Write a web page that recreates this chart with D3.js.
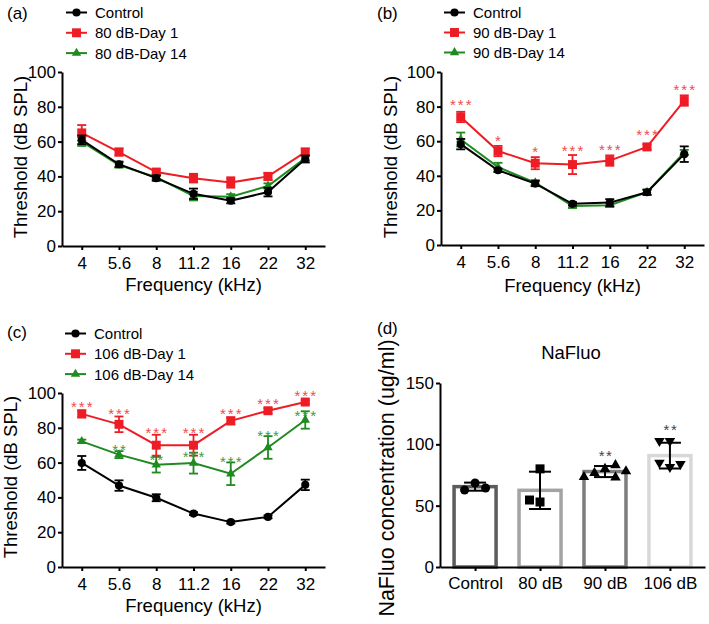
<!DOCTYPE html>
<html><head><meta charset="utf-8">
<script src="https://cdn.jsdelivr.net/npm/d3@7/dist/d3.min.js"></script>
<style>
body{margin:0;background:#fff}
svg{display:block;font-family:"Liberation Sans",Arial,sans-serif}
</style>
</head><body>
<svg id="chart" width="709" height="624"></svg>
<script>
// ---------------- DATA ----------------
const freqs = ["4", "5.6", "8", "11.2", "16", "22", "32"];
const thresholdTicks = [0, 20, 40, 60, 80, 100];

// Panel (a) 80 dB
const aControl    = [61, 47, 39, 30, 26, 31, 50];
const aControlErr = [2.5, 1.5, 1.5, 3, 1.5, 2.5, 2];
const aDay1       = [65, 54, 42.5, 39, 36.5, 40, 54];
const aDay1Err    = [4.5, 2, 1.5, 2.5, 3, 2, 2];
const aDay14      = [60, 46.5, 39.5, 28.7, 28.3, 34.5, 50.5];
const aDay14Err   = [2.5, 1.5, 1, 2.5, 1.5, 1.5, 1.5];

// Panel (b) 90 dB
const bControl    = [58.3, 43.2, 35.5, 23.8, 24.5, 30.5, 52.5];
const bControlErr = [3, 1, 1.5, 1, 2, 1.5, 4.5];
const bDay1       = [74, 54.3, 47.3, 46.5, 48.8, 56.7, 83.5];
const bDay1Err    = [3, 3, 3.5, 5.5, 3, 1.5, 3];
const bDay14      = [61, 45, 36, 22.5, 23, 30.5, 53.5];
const bDay14Err   = [4, 2.5, 1.5, 1, 1, 1.5, 1.5];
const bDay1Sig    = ["***", "*", "*", "***", "***", "***", "***"];
const bDay1SigAt  = [83, 62.4, 56, 56.4, 57.2, 65.8, 91.6];

// Panel (c) 106 dB
const cControl    = [59.8, 46.8, 39.8, 30.7, 25.8, 28.8, 47.2];
const cControlErr = [4, 3, 2, 0.8, 0.8, 0.8, 3];
const cDay1       = [88, 82, 70, 70, 84, 89.8, 94.8];
const cDay1Err    = [2, 4.5, 6, 6, 2, 1.5, 1];
const cDay14      = [72.2, 64.6, 58.8, 59.7, 53.6, 68.7, 84.5];
const cDay14Err   = [1, 2, 4.5, 6, 6.5, 6.5, 5];
const cDay1Sig    = ["***", "***", "***", "***", "***", "***", "***"];
const cDay1SigAt  = [94.1, 90.2, 79.1, 79.1, 90.2, 95.6, 100.2];
const cDay14Sig   = ["", "**", "**", "***", "***", "***", "***"];
const cDay14SigAt = [null, 69.5, 63.4, 65.3, 62.4, 77.4, 88.7];

// Panel (d) NaFluo
const groups      = ["Control", "80 dB", "90 dB", "106 dB"];
const naMean      = [65.5, 62.5, 77.8, 90.8];
const naSD        = [3.3, 15.2, 4.5, 10.5];
const naPoints    = [
  [68.5, 62.8, 64.4],
  [80, 53, 54.6],
  [80, 76.6, 83, 73, 73.4, 78],
  [81.5, 102.7, 102.7, 85, 84]
];
const naSig       = ["", "", "**", "**"];
const naSigAt     = [null, null, 93.8, 115];
const naTicks     = [0, 50, 100, 150];

// ---------------- STYLE ----------------
const RED = "#ee1c24", GREEN = "#1f8a1f", BLACK = "#000";
const RED_SIG = "#ef4a4a", GREEN_SIG = "#3d9c3d";
const TICK_FS = 17, TITLE_FS = 18.5, LEG_FS = 15, LABEL_FS = 17, SIG_FS = 15;

const svg = d3.select("#chart");

function marker(sel, shape, color, big) {
  let sym;
  if (shape === "circle") sym = d3.symbol(d3.symbolCircle, big ? 64 : 52);
  else if (shape === "square") sym = d3.symbol(d3.symbolSquare, big ? 81 : 80);
  else sym = d3.symbol(d3.symbolTriangle, big ? 48 : 38);
  sel.append("path").attr("d", sym()).attr("fill", color);
  if (shape === "down") sel.select("path:last-child").attr("transform", "rotate(180)");
}

function styleAxis(a) {
  a.select(".domain").attr("stroke", BLACK).attr("stroke-width", 2);
  a.selectAll(".tick line").attr("stroke", BLACK).attr("stroke-width", 2);
  a.selectAll(".tick text").attr("fill", BLACK).attr("font-size", TICK_FS)
    .attr("font-family", "Liberation Sans, Arial, sans-serif");
}

function linePanel(o) {
  const g = svg.append("g");
  const x = d3.scalePoint().domain(freqs).range([o.x0, o.x1]).padding(0.53);
  const y = d3.scaleLinear().domain([0, 100]).range([o.yBot, o.yTop]);

  const xa = g.append("g").attr("transform", `translate(0,${o.yBot})`)
    .call(d3.axisBottom(x).tickSize(4).tickSizeOuter(0).tickPadding(7));
  styleAxis(xa);
  const ya = g.append("g").attr("transform", `translate(${o.x0},0)`)
    .call(d3.axisLeft(y).tickValues(thresholdTicks).tickSize(4).tickSizeOuter(0).tickPadding(2));
  styleAxis(ya);

  // series: draw order green, red, black
  [o.series[2], o.series[1], o.series[0]].forEach(s => {
    const pts = freqs.map((f, i) => ({ f, v: s.vals[i], e: s.errs[i] }));
    g.append("path").datum(pts)
      .attr("d", d3.line().x(d => x(d.f)).y(d => y(d.v)))
      .attr("fill", "none").attr("stroke", s.color).attr("stroke-width", 2);
    const eb = g.append("g").attr("stroke", s.color).attr("stroke-width", 1.8);
    pts.forEach(d => {
      const cx = x(d.f), t = y(d.v + d.e), b = y(d.v - d.e);
      eb.append("line").attr("x1", cx).attr("x2", cx).attr("y1", t).attr("y2", b);
      eb.append("line").attr("x1", cx - 4.5).attr("x2", cx + 4.5).attr("y1", t).attr("y2", t);
      eb.append("line").attr("x1", cx - 4.5).attr("x2", cx + 4.5).attr("y1", b).attr("y2", b);
    });
    pts.forEach(d => {
      const m = g.append("g").attr("transform", `translate(${x(d.f)},${y(d.v)})`);
      marker(m, s.shape, s.color, false);
    });
  });

  // significance marks
  (o.sigs || []).forEach(sg => {
    freqs.forEach((f, i) => {
      if (!sg.text[i]) return;
      g.append("text").attr("x", x(f) + 1).attr("y", y(sg.at[i]) + SIG_FS * 0.58)
        .attr("text-anchor", "middle").attr("font-size", SIG_FS)
        .attr("letter-spacing", 2).attr("fill", sg.color).text(sg.text[i]);
    });
  });

  // legend
  o.series.forEach((s, i) => {
    const ly = o.leg.y + i * o.leg.dy;
    g.append("line").attr("x1", o.leg.x).attr("x2", o.leg.x + 21)
      .attr("y1", ly).attr("y2", ly).attr("stroke", s.color).attr("stroke-width", 2);
    const m = g.append("g").attr("transform", `translate(${o.leg.x + 10.5},${ly})`);
    marker(m, s.shape, s.color, false);
    g.append("text").attr("x", o.leg.x + 29).attr("y", ly + LEG_FS * 0.36)
      .attr("font-size", LEG_FS).attr("fill", BLACK).text(s.name);
  });

  // titles
  g.append("text").attr("x", (o.x0 + o.x1) / 2).attr("y", o.xTitleY)
    .attr("text-anchor", "middle").attr("font-size", TITLE_FS).text("Frequency (kHz)");
  g.append("text").attr("transform", `translate(${o.yTitleX},${o.yTitleY}) rotate(-90)`)
    .attr("text-anchor", "middle").attr("font-size", TITLE_FS).text("Threshold (dB SPL)");
  g.append("text").attr("x", o.lab.x).attr("y", o.lab.y).attr("font-size", LABEL_FS).text(o.lab.t);
}

linePanel({
  x0: 62, x1: 325, yTop: 72, yBot: 246,
  series: [
    { name: "Control", vals: aControl, errs: aControlErr, color: BLACK, shape: "circle" },
    { name: "80 dB-Day 1", vals: aDay1, errs: aDay1Err, color: RED, shape: "square" },
    { name: "80 dB-Day 14", vals: aDay14, errs: aDay14Err, color: GREEN, shape: "tri" }
  ],
  leg: { x: 66, y: 12.5, dy: 20.3 },
  xTitleY: 291, yTitleX: 26.5, yTitleY: 157,
  lab: { x: 7, y: 18.5, t: "(a)" }
});

linePanel({
  x0: 441, x1: 704, yTop: 72, yBot: 245,
  series: [
    { name: "Control", vals: bControl, errs: bControlErr, color: BLACK, shape: "circle" },
    { name: "90 dB-Day 1", vals: bDay1, errs: bDay1Err, color: RED, shape: "square" },
    { name: "90 dB-Day 14", vals: bDay14, errs: bDay14Err, color: GREEN, shape: "tri" }
  ],
  sigs: [{ text: bDay1Sig, at: bDay1SigAt, color: RED_SIG }],
  leg: { x: 444, y: 12.5, dy: 20 },
  xTitleY: 291.5, yTitleX: 397, yTitleY: 157,
  lab: { x: 377, y: 18.5, t: "(b)" }
});

linePanel({
  x0: 62, x1: 325, yTop: 393, yBot: 567,
  series: [
    { name: "Control", vals: cControl, errs: cControlErr, color: BLACK, shape: "circle" },
    { name: "106 dB-Day 1", vals: cDay1, errs: cDay1Err, color: RED, shape: "square" },
    { name: "106 dB-Day 14", vals: cDay14, errs: cDay14Err, color: GREEN, shape: "tri" }
  ],
  sigs: [
    { text: cDay1Sig, at: cDay1SigAt, color: RED_SIG },
    { text: cDay14Sig, at: cDay14SigAt, color: GREEN_SIG }
  ],
  leg: { x: 65, y: 333.5, dy: 20.3 },
  xTitleY: 611.5, yTitleX: 17, yTitleY: 477,
  lab: { x: 7, y: 338, t: "(c)" }
});

// ---------------- Panel (d) ----------------
(function () {
  const g = svg.append("g");
  const x0 = 440, x1 = 705, yBot = 567, yTop = 383;
  const x = d3.scalePoint().domain(groups).range([x0, x1]).padding(0.54);
  const y = d3.scaleLinear().domain([0, 150]).range([yBot, yTop]);
  const barStroke = ["#5c5c5c", "#a3a3a3", "#7d7d7d", "#d8d8d8"];
  const shapes = ["circle", "square", "tri", "down"];
  const bw = 42;

  groups.forEach((gname, i) => {
    const cx = x(gname);
    g.append("rect").attr("x", cx - bw / 2).attr("width", bw)
      .attr("y", y(naMean[i])).attr("height", yBot - y(naMean[i]))
      .attr("fill", "#fff").attr("stroke", barStroke[i]).attr("stroke-width", 3.5);
  });

  const xa = g.append("g").attr("transform", `translate(0,${yBot})`)
    .call(d3.axisBottom(x).tickSize(4).tickSizeOuter(0).tickPadding(6));
  styleAxis(xa);
  const ya = g.append("g").attr("transform", `translate(${x0},0)`)
    .call(d3.axisLeft(y).tickValues(naTicks).tickSize(4).tickSizeOuter(0).tickPadding(2));
  styleAxis(ya);

  // beeswarm-like placement of the individual points
  const S = 10.5;
  groups.forEach((gname, i) => {
    const cx = x(gname);
    const placed = [];
    naPoints[i].forEach(v => {
      const py = y(v);
      const cands = [0, -S, S, -2 * S, 2 * S, -3 * S, 3 * S];
      let off = 0;
      for (const c of cands) {
        if (placed.every(p => Math.hypot(p.o - c, p.y - py) >= S)) { off = c; break; }
      }
      placed.push({ o: off, y: py });
    });
    placed.forEach(p => {
      const m = g.append("g").attr("transform", `translate(${cx + p.o},${p.y})`);
      marker(m, shapes[i], BLACK, true);
    });
    // error bar
    const t = y(naMean[i] + naSD[i]), b = y(naMean[i] - naSD[i]);
    const eb = g.append("g").attr("stroke", BLACK).attr("stroke-width", 2);
    eb.append("line").attr("x1", cx).attr("x2", cx).attr("y1", t).attr("y2", b);
    eb.append("line").attr("x1", cx - 11).attr("x2", cx + 11).attr("y1", t).attr("y2", t);
    eb.append("line").attr("x1", cx - 11).attr("x2", cx + 11).attr("y1", b).attr("y2", b);
    if (naSig[i]) {
      g.append("text").attr("x", cx + 1).attr("y", y(naSigAt[i]) + SIG_FS * 0.58)
        .attr("text-anchor", "middle").attr("font-size", SIG_FS).attr("letter-spacing", 1.5)
        .attr("fill", "#444").text(naSig[i]);
    }
  });

  g.append("text").attr("x", 571).attr("y", 358.5).attr("text-anchor", "middle")
    .attr("font-size", TITLE_FS).text("NaFluo");
  g.append("text").attr("transform", `translate(394,478) rotate(-90)`)
    .attr("text-anchor", "middle").attr("font-size", 21.5).text("NaFluo concentration (ug/ml)");
  g.append("text").attr("x", 377).attr("y", 334).attr("font-size", LABEL_FS).text("(d)");
})();
</script>
</body></html>
